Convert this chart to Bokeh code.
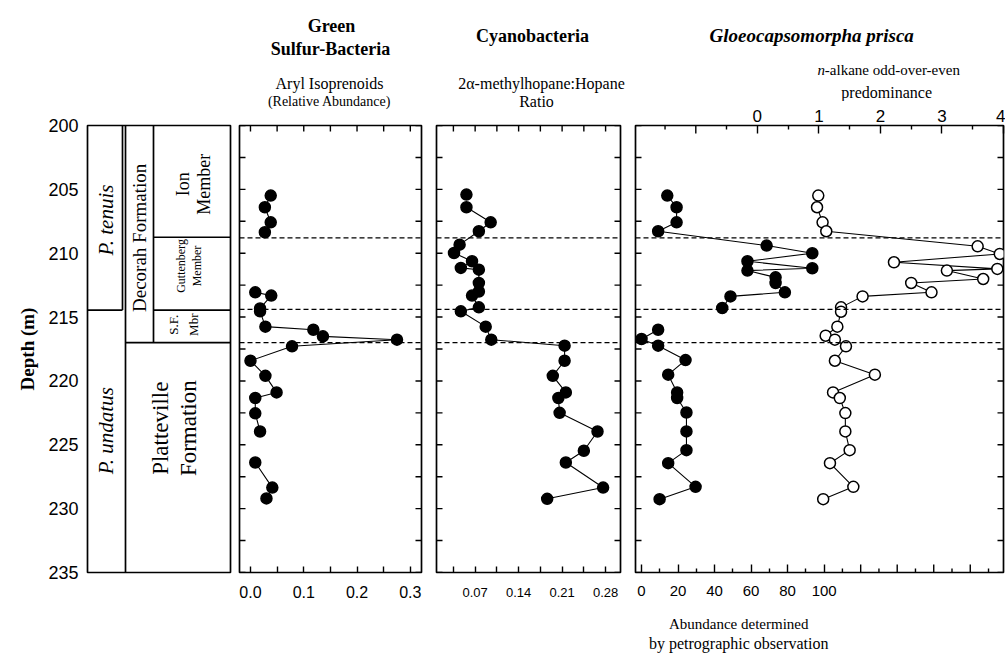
import math
from bokeh.plotting import figure
from bokeh.models import Range1d, LinearAxis, FixedTicker, Span, NumeralTickFormatter
from bokeh.core.properties import value
from bokeh.layouts import row, column
from bokeh.embed import file_html
from bokeh.resources import INLINE

# ---------------- data ----------------
depth_ticks = [200 + 2.5 * i for i in range(15)]
depth_labels = [200, 205, 210, 215, 220, 225, 230, 235]

# stratigraphic boundaries (m)
zone_boundary = 214.45          # P. tenuis / P. undatus
formation_boundary = 217.0      # Decorah / Platteville
member_boundaries = [208.75, 214.45]  # Ion / Guttenberg, Guttenberg / S.F.
dashed_depths = [208.8, 214.4, 217.0]

# Green sulfur bacteria: aryl isoprenoids (relative abundance)
aryl_depth = [205.49, 206.40, 207.58, 208.36, 213.06, 213.32, 214.32, 214.55, 215.75, 215.99,
              216.51, 216.77, 217.29, 218.42, 219.60, 220.90, 221.34, 222.54, 223.96, 226.39,
              228.35, 229.20]
aryl_value = [0.038, 0.027, 0.038, 0.027, 0.009, 0.039, 0.018, 0.018, 0.028, 0.118,
              0.136, 0.275, 0.078, 0.000, 0.028, 0.049, 0.009, 0.009, 0.018, 0.009,
              0.041, 0.030]
aryl_breaks = [4, 19]

# Cyanobacteria: 2a-methylhopane / hopane ratio
hop_depth = [205.41, 206.40, 207.58, 208.28, 209.33, 209.98, 210.63, 211.15, 211.29, 212.33,
             213.00, 213.32, 214.24, 214.55, 215.75, 216.77, 217.24, 218.42, 219.60, 220.90,
             221.34, 222.50, 223.96, 225.47, 226.39, 228.35, 229.23]
hop_value = [0.056, 0.056, 0.095, 0.076, 0.045, 0.036, 0.065, 0.047, 0.076, 0.076,
             0.076, 0.065, 0.076, 0.047, 0.087, 0.096, 0.214, 0.214, 0.195, 0.216,
             0.204, 0.206, 0.267, 0.245, 0.216, 0.276, 0.186]
hop_breaks = [1]

# G. prisca abundance (petrographic), bottom axis
gp_depth = [205.49, 206.40, 207.58, 208.28, 209.40, 210.00, 210.63, 211.18, 211.36, 211.89,
            212.33, 213.06, 213.38, 214.29, 215.99, 216.72, 217.24, 218.37, 219.51, 220.90,
            221.34, 222.47, 223.95, 225.42, 226.44, 228.29, 229.26]
gp_value = [14.1, 19.2, 19.2, 9.1, 68.5, 93.5, 58.0, 93.5, 58.0, 73.4,
            73.4, 78.5, 48.7, 44.2, 9.1, 0.0, 9.1, 24.1, 14.6, 19.5,
            19.5, 24.6, 24.6, 24.6, 14.6, 29.6, 9.9]
gp_breaks = [14]

# n-alkane odd-over-even predominance, top axis
ooe_depth = [205.49, 206.40, 207.58, 208.28, 209.46, 210.06, 210.71, 211.23, 211.36, 212.02,
             212.33, 213.06, 213.38, 214.24, 214.58, 215.75, 216.46, 216.77, 217.29, 218.42,
             219.51, 220.90, 221.34, 222.52, 223.95, 225.42, 226.44, 228.29, 229.26]
ooe_value = [0.99, 0.97, 1.06, 1.12, 3.58, 3.94, 2.22, 3.90, 3.08, 3.67,
             2.50, 2.83, 1.71, 1.36, 1.36, 1.30, 1.11, 1.26, 1.44, 1.26,
             1.91, 1.23, 1.34, 1.43, 1.43, 1.50, 1.18, 1.56, 1.07]

p1_ticks = [0.0, 0.1, 0.2, 0.3]
p1_minor = [0.05, 0.15, 0.25]
p2_ticks = [0.07, 0.14, 0.21, 0.28]
p2_minor = [0.035, 0.105, 0.175, 0.245]
p3_ticks = [0, 20, 40, 60, 80, 100]
p3_minor = [10, 30, 50, 70, 90]
p3_extra_major = [120, 140, 160, 180]
p3_extra_minor = [110, 130, 150, 170, 190]
ooe_ticks = [0, 1, 2, 3, 4]
ooe_minor = [-0.5, 0.5, 1.5, 2.5, 3.5]
ooe_extra_major = [-1]
ooe_extra_minor = [-1.5]

# ---------------- styling / layout ----------------
SERIF = "Liberation Serif"
SANS = "Liberation Sans"
TOTAL_H = 654
FRAME_TOP = 125
FRAME_H = 447
HDR_L = 112                 # header height above strat / p1 / p2
HDR_R = 101                 # header height above p3
LEFT_H = TOTAL_H - HDR_L
RIGHT_TOP = FRAME_TOP - HDR_R
RIGHT_H = RIGHT_TOP + FRAME_H + 36
FOOT_R = TOTAL_H - HDR_R - RIGHT_H
W_STRAT, W_P1, W_P2, W_P3 = 234, 194, 199, 378


def with_breaks(xs, ys, breaks):
    ox, oy = [], []
    for i, (x, y) in enumerate(zip(xs, ys)):
        if i in breaks:
            ox.append(float("nan"))
            oy.append(float("nan"))
        ox.append(x)
        oy.append(y)
    return ox, oy


def base_fig(width, height, left, right, top, xr):
    p = figure(width=width, height=height, x_range=xr, y_range=Range1d(235, 200),
               min_border_left=left, min_border_right=right,
               min_border_top=top, min_border_bottom=height - top - FRAME_H,
               output_backend="svg", toolbar_location=None,
               x_axis_location=None, y_axis_location=None, title=None)
    p.grid.visible = False
    p.outline_line_color = "black"
    p.outline_line_width = 1.7
    p.background_fill_color = "white"
    p.border_fill_color = "white"
    return p


def text_fig(width, height):
    p = figure(width=width, height=height, x_range=Range1d(0, width), y_range=Range1d(height, 0),
               min_border=0, output_backend="svg", toolbar_location=None,
               x_axis_location=None, y_axis_location=None, title=None)
    p.grid.visible = False
    p.outline_line_color = None
    p.background_fill_color = "white"
    p.border_fill_color = "white"
    return p


def put(p, text, x, y, size, style="normal", align="center"):
    p.text(x=[x], y=[y], text=[text], text_font=value(SERIF), text_font_size=value(size),
           text_font_style=style, text_align=align, text_baseline="middle", text_color="black")


def edge_ticks(p, positions, where, length, range_name="default"):
    n = len(positions)
    if where in ("left", "right"):
        x = p.x_range.start if where == "left" else p.x_range.end
        p.scatter([x] * n, positions, marker="dash", size=2 * length, angle=0,
                  line_color="black", line_width=1.4)
    else:
        y = p.y_range.end if where == "top" else p.y_range.start
        p.scatter(positions, [y] * n, marker="dash", size=2 * length, angle=math.pi / 2,
                  line_color="black", line_width=1.4, x_range_name=range_name)


def labelled_axis(p, side, ticks, minor, size, standoff, fmt=None, range_name="default",
                  tick_len=6, minor_len=6):
    ax = LinearAxis(ticker=FixedTicker(ticks=ticks, minor_ticks=minor),
                    x_range_name=range_name,
                    major_tick_in=tick_len, major_tick_out=0,
                    minor_tick_in=minor_len, minor_tick_out=0,
                    major_tick_line_width=1.4, minor_tick_line_width=1.4,
                    axis_line_color=None,
                    major_label_text_font=SANS, major_label_text_font_size=size,
                    major_label_standoff=standoff, major_label_text_color="black")
    if fmt:
        ax.formatter = NumeralTickFormatter(format=fmt)
    p.add_layout(ax, side)
    return ax


def dashed(p):
    for d in dashed_depths:
        p.add_layout(Span(location=d, dimension="width", line_color="black",
                          line_dash="5 3", line_width=1.4))


def draw_series(p, xs, ys, breaks, fill, range_name="default"):
    lx, ly = with_breaks(xs, ys, breaks)
    p.line(lx, ly, line_color="black", line_width=1.1, x_range_name=range_name)
    p.scatter(xs, ys, size=11, fill_color=fill, line_color="black", line_width=1.5,
              x_range_name=range_name)


# ---------------- stratigraphic column ----------------
strat = base_fig(W_STRAT, LEFT_H, 87, 4, FRAME_TOP - HDR_L, Range1d(0, 143))
yax = LinearAxis(ticker=FixedTicker(ticks=depth_labels), major_tick_in=0, major_tick_out=0,
                 minor_tick_in=0, minor_tick_out=0, axis_line_color=None,
                 major_label_text_font=SANS, major_label_text_font_size="18px",
                 major_label_text_color="black", major_label_standoff=9,
                 axis_label="Depth (m)", axis_label_text_font=SERIF,
                 axis_label_text_font_size="19px", axis_label_text_font_style="bold",
                 axis_label_text_color="black", axis_label_standoff=7)
strat.add_layout(yax, "left")

# column edges (layout, px inside the column)
c_zone, c_form, c_mem, c_end = 35, 38, 66, 143
seg_x0 = [c_zone, c_form, c_mem, 0, c_form, c_mem, c_mem]
seg_x1 = [c_zone, c_form, c_mem, c_zone, c_end, c_end, c_end]
seg_y0 = [200, 200, 200, zone_boundary, formation_boundary, member_boundaries[0], member_boundaries[1]]
seg_y1 = [zone_boundary, 235, formation_boundary, zone_boundary, formation_boundary,
          member_boundaries[0], member_boundaries[1]]
strat.segment(seg_x0, seg_y0, seg_x1, seg_y1, line_color="black", line_width=1.7)

v_text = ["P. tenuis", "P. undatus", "Decorah Formation", "Ion", "Member", "Guttenberg", "Member",
          "S.F.", "Mbr", "Platteville", "Formation"]
v_x = [18, 18, 52, 95, 116, 93, 109, 86, 106, 73, 101]
v_y = [207.4, 223.9, 208.8, 204.6, 204.6, 211.0, 211.0, 215.6, 215.6, 223.7, 223.7]
v_size = ["21px", "21px", "19px", "18px", "18px", "12px", "12px", "13px", "13px", "23px", "23px"]
v_style = ["italic", "italic"] + ["normal"] * 9
for t, x, y, s, st in zip(v_text, v_x, v_y, v_size, v_style):
    strat.text(x=[x], y=[y], text=[t], angle=math.pi / 2, text_font=value(SERIF),
               text_font_size=value(s), text_font_style=st, text_align="center",
               text_baseline="middle", text_color="black")

# ---------------- panel 1 ----------------
p1 = base_fig(W_P1, LEFT_H, 5, 7, FRAME_TOP - HDR_L, Range1d(-0.0206, 0.321))
labelled_axis(p1, "below", p1_ticks, p1_minor, "16px", 13, fmt="0.0")
edge_ticks(p1, p1_ticks + p1_minor, "top", 6)
edge_ticks(p1, depth_ticks, "left", 6)
edge_ticks(p1, depth_ticks, "right", 6)
dashed(p1)
draw_series(p1, aryl_value, aryl_depth, aryl_breaks, "black")

# ---------------- panel 2 ----------------
p2 = base_fig(W_P2, LEFT_H, 8, 7, FRAME_TOP - HDR_L, Range1d(0.0078, 0.304))
labelled_axis(p2, "below", p2_ticks, p2_minor, "13px", 15, fmt="0.00")
edge_ticks(p2, p2_ticks + p2_minor, "top", 6)
edge_ticks(p2, depth_ticks, "left", 6)
edge_ticks(p2, depth_ticks, "right", 6)
dashed(p2)
draw_series(p2, hop_value, hop_depth, hop_breaks, "black")

# ---------------- panel 3 ----------------
p3 = base_fig(W_P3, RIGHT_H, 8, 2, RIGHT_TOP, Range1d(-3.3, 198.2))
p3.extra_x_ranges = {"ooe": Range1d(-1.98, 4.0)}
labelled_axis(p3, "above", ooe_ticks, ooe_minor, "17px", 4, range_name="ooe",
              tick_len=8, minor_len=4)
labelled_axis(p3, "below", p3_ticks, p3_minor, "15px", 13, tick_len=8, minor_len=4)
edge_ticks(p3, ooe_extra_major, "top", 8, range_name="ooe")
edge_ticks(p3, ooe_extra_minor, "top", 4, range_name="ooe")
edge_ticks(p3, p3_extra_major, "bottom", 8)
edge_ticks(p3, p3_extra_minor, "bottom", 4)
edge_ticks(p3, depth_ticks, "left", 6)
edge_ticks(p3, depth_ticks, "right", 6)
dashed(p3)
draw_series(p3, gp_value, gp_depth, gp_breaks, "black")
draw_series(p3, ooe_value, ooe_depth, [], "white", range_name="ooe")

# ---------------- header / footer texts ----------------
hdr_l = text_fig(W_STRAT + W_P1 + W_P2, HDR_L)
put(hdr_l, "Green", 331, 25, "18px", "bold")
put(hdr_l, "Sulfur-Bacteria", 330, 48, "18px", "bold")
put(hdr_l, "Aryl Isoprenoids", 329, 83, "16px")
put(hdr_l, "(Relative Abundance)", 329, 101, "14px")
put(hdr_l, "Cyanobacteria", 532, 35, "18px", "bold")
put(hdr_l, "2\u03b1-methylhopane:Hopane", 541, 83, "16px")
put(hdr_l, "Ratio", 536, 101, "16px")

hdr_r = text_fig(W_P3, HDR_R)
put(hdr_r, "Gloeocapsomorpha prisca", 181, 35, "19px", "bold italic")
put(hdr_r, "n", 187, 69, "15px", "italic", align="left")
put(hdr_r, "-alkane odd-over-even", 194.5, 69, "15px", align="left")
put(hdr_r, "predominance", 258, 92, "16px")

ftr_r = text_fig(W_P3, FOOT_R)
put(ftr_r, "Abundance determined", 106, 15, "15px")
put(ftr_r, "by petrographic observation", 106, 35, "16px")

left = column(hdr_l, row(strat, p1, p2))
right = column(hdr_r, p3, ftr_r)
layout = row(left, right)
open("out.html", "w").write(file_html(layout, INLINE))
